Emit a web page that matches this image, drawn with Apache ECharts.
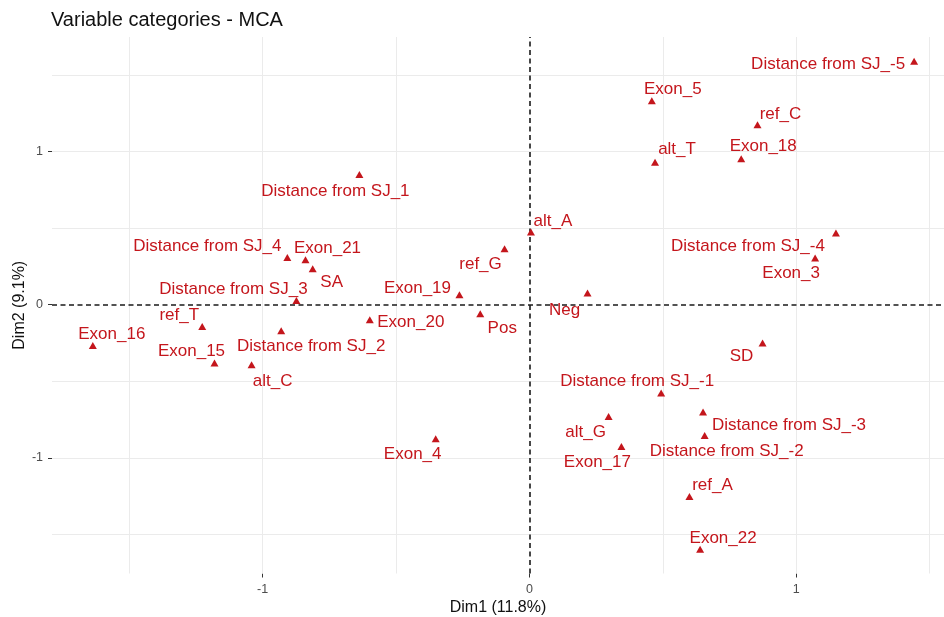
<!DOCTYPE html>
<html>
<head>
<meta charset="utf-8">
<script src="https://cdn.jsdelivr.net/npm/echarts@6/dist/echarts.min.js"></script>
<style>html,body{margin:0;padding:0;background:#fff;}#c{width:944px;height:617px;}</style>
</head>
<body>
<div id="c"></div>
<script>
// ---- data ----
const categories = [
  "Distance from SJ_-5","Exon_5","ref_C","alt_T","Exon_18","Distance from SJ_-4","Exon_3",
  "Distance from SJ_4","Exon_21","SA","Distance from SJ_3","ref_T","Exon_16","Exon_15",
  "Distance from SJ_2","alt_C","Exon_20","Exon_19","ref_G","Neg","Pos","SD",
  "Distance from SJ_-1","alt_G","Exon_17","Distance from SJ_-3","Distance from SJ_-2",
  "ref_A","Exon_22","Exon_4","Distance from SJ_1","alt_A"
];
const dim1 = [1.442,0.459,0.855,0.471,0.794,1.149,1.071,
  -0.907,-0.839,-0.812,-0.873,-1.226,-1.636,-1.180,
  -0.930,-1.041,-0.598,-0.262,-0.093,0.218,-0.184,0.874,
  0.494,0.297,0.345,0.651,0.657,
  0.600,0.640,-0.351,-0.637,0.006];
const dim2 = [1.590,1.333,1.176,0.930,0.954,0.469,0.305,
  0.309,0.294,0.235,0.028,-0.142,-0.266,-0.381,
  -0.170,-0.392,-0.098,0.065,0.366,0.076,-0.059,-0.250,
  -0.577,-0.730,-0.926,-0.701,-0.854,
  -1.253,-1.597,-0.876,0.850,0.475];
const xTicks = [-1, 0, 1];
const yTicks = [-1, 0, 1];
const xGrid = [-1.5, -1, -0.5, 0.5, 1, 1.5];
const yGrid = [-1.5, -1, -0.5, 0.5, 1, 1.5];

// ---- layout (label repel offsets in px) ----
const labelOffsets = [
  [-86,3],[21,-11],[23,-10],[22,-13],[22,-12],[-88,13],[-24,15],
  [-80,-11],[22,-11],[19,14],[-63,-11],[-23,-11],[19,-11],[-23,-12],
  [30,16],[21,17],[41,3],[-42,-6],[-24,16],[-23,17],[22,15],[-21,13],
  [-24,-12],[-23,16],[-24,16],[86,13],[22,16],
  [23,-11],[23,-11],[-23,16],[-24,17],[22,-11]
];

const RED = '#c4161c';
const FONT = '"Liberation Sans", Arial, sans-serif';

const points = categories.map((name, i) => ({
  name: name,
  value: [dim1[i], dim2[i]],
  label: {
    show: true,
    formatter: name,
    position: 'inside',
    offset: labelOffsets[i],
    align: 'center',
    verticalAlign: 'middle',
    color: RED,
    fontSize: 17,
    fontFamily: FONT
  }
}));

const chart = echarts.init(document.getElementById('c'), null, {renderer: 'canvas'});
chart.setOption({
  animation: false,
  backgroundColor: '#fff',
  title: {
    text: 'Variable categories - MCA',
    left: 51, top: 10, padding: 0,
    textStyle: {fontSize: 20, fontWeight: 'normal', color: '#111', fontFamily: FONT}
  },
  grid: {left: 52, right: 0, top: 37, bottom: 43.5, containLabel: false, outerBoundsMode: 'none'},
  xAxis: {
    type: 'value', min: -1.789, max: 1.554,
    name: 'Dim1 (11.8%)', nameLocation: 'middle', nameGap: 26, nameMoveOverlap: false,
    nameTextStyle: {fontSize: 16, color: '#111', fontFamily: FONT},
    axisLine: {show: false, onZero: false},
    axisTick: {show: true, customValues: xTicks, length: 4, lineStyle: {color: '#333'}},
    axisLabel: {customValues: xTicks, fontSize: 12.5, color: '#4d4d4d', margin: 10, fontFamily: FONT},
    splitLine: {show: false}
  },
  yAxis: {
    type: 'value', min: -1.756, max: 1.749,
    name: 'Dim2 (9.1%)', nameLocation: 'middle', nameGap: 24, nameRotate: 90, nameMoveOverlap: false,
    nameTextStyle: {fontSize: 16, color: '#111', fontFamily: FONT},
    axisLine: {show: false, onZero: false},
    axisTick: {show: true, customValues: yTicks, length: 4, lineStyle: {color: '#333'}},
    axisLabel: {customValues: yTicks, fontSize: 12.5, color: '#4d4d4d', margin: 9, fontFamily: FONT},
    splitLine: {show: false}
  },
  series: [
    {
      type: 'scatter', data: [], silent: true,
      markLine: {
        silent: true, symbol: 'none', z: 1, animation: false,
        label: {show: false},
        lineStyle: {color: '#ebebeb', width: 1, type: 'solid'},
        data: xGrid.map(v => ({xAxis: v})).concat(yGrid.map(v => ({yAxis: v})))
      }
    },
    {
      type: 'scatter', data: [], silent: true,
      markLine: {
        silent: true, symbol: 'none', z: 2, animation: false,
        label: {show: false},
        lineStyle: {color: '#1a1a1a', width: 1.6, type: [5, 3.5]},
        data: [{xAxis: 0}, {yAxis: 0}]
      }
    },
    {
      type: 'scatter', z: 3,
      symbol: 'triangle', symbolSize: [8, 7],
      itemStyle: {color: RED, opacity: 1},
      data: points
    }
  ]
});
</script>
</body>
</html>
